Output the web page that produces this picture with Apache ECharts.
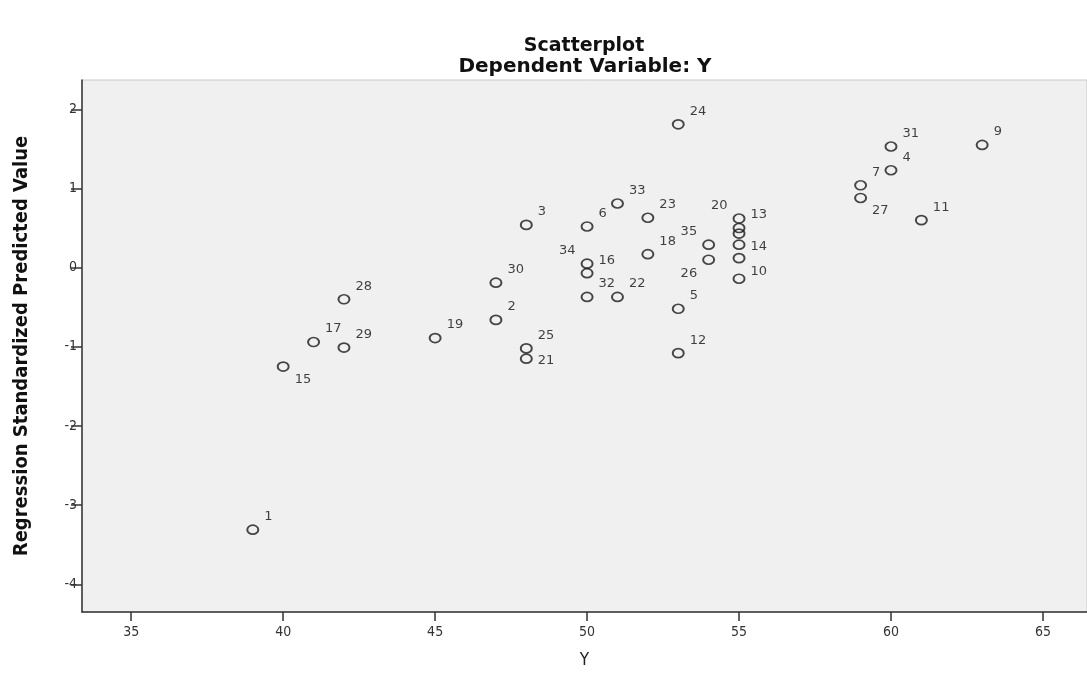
<!DOCTYPE html>
<html>
<head>
<meta charset="utf-8">
<script src="https://cdn.jsdelivr.net/npm/echarts@6/dist/echarts.min.js"></script>
<style>
html,body{margin:0;padding:0;background:#fff;}
#c{width:1087px;height:675px;}
</style>
</head>
<body>
<div id="c"></div>
<script>
// ---- data ----
const caseLabels = ['1','15','28','17','29','19','2','30','3','25','21','6','33','23','24','34','16','32','22','18','35','26','5','12','20','13','','14','10','','31','4','7','27','11','9'];
const observedY  = [39,40,42,41,42,45,47,47,48,48,48,50,51,52,53,50,50,50,51,52,54,54,53,53,55,55,55,55,55,55,60,60,59,59,61,63];
const predicted  = [-3.31,-1.25,-0.40,-0.94,-1.01,-0.89,-0.66,-0.19,0.54,-1.02,-1.15,0.52,0.81,0.63,1.81,0.05,-0.07,-0.37,-0.37,0.17,0.29,0.10,-0.52,-1.08,0.62,0.50,0.43,0.29,0.12,-0.14,1.53,1.23,1.04,0.88,0.60,1.55];
const xTicks = [35,40,45,50,55,60,65];
const yTicks = [-4,-3,-2,-1,0,1,2];

// ---- label placement styling (not data) ----
const labelSide = {'15':'LR','21':'R','34':'UL','35':'UL','26':'LL','20':'UL','14':'R','10':'LR','27':'LR'};
function labelCfg(side){
  switch(side){
    case 'UL': return {position:'left', offset:[0,-13]};
    case 'LR': return {position:'right', offset:[0,13]};
    case 'LL': return {position:'left', offset:[0,14]};
    case 'R':  return {position:'right', offset:[0,2]};
    default:   return {position:'right', offset:[0,-13]};
  }
}

const points = observedY.map((x,i)=>{
  const lab = caseLabels[i];
  return {
    value:[x, predicted[i]],
    name: lab,
    label: Object.assign({show: lab!==''}, labelCfg(labelSide[lab]||'UR'))
  };
});

const condensed = '"DejaVu Sans Condensed", "DejaVu Sans", sans-serif';
const chart = echarts.init(document.getElementById('c'), null, {renderer:'canvas'});
chart.setOption({
  animation:false,
  backgroundColor:'#ffffff',
  grid:{left:82, right:0, top:80, bottom:63, show:true, backgroundColor:'#f0f0f0', borderColor:'#c8c8c8', borderWidth:1},
  graphic:[
    {type:'text', x:584, y:46, style:{text:'Scatterplot', font:'bold 19px "DejaVu Sans"', fill:'#111', textAlign:'center', textVerticalAlign:'middle'}},
    {type:'text', x:585, y:67, style:{text:'Dependent Variable: Y', font:'bold 20px "DejaVu Sans"', fill:'#111', textAlign:'center', textVerticalAlign:'middle'}}
  ],
  xAxis:{
    type:'value', min:33.38, max:66.45,
    name:'Y', nameLocation:'middle', nameGap:40,
    nameTextStyle:{fontFamily:condensed, fontSize:17, color:'#222'},
    axisLine:{onZero:false, lineStyle:{color:'#333', width:1.5}},
    axisTick:{show:true, length:9, lineStyle:{color:'#333', width:1.5}, customValues:xTicks},
    axisLabel:{fontFamily:condensed, fontSize:14, color:'#333', margin:13, customValues:xTicks},
    splitLine:{show:false}
  },
  yAxis:{
    type:'value', min:-4.35, max:2.37,
    name:'Regression Standardized Predicted Value', nameLocation:'middle', nameGap:50, nameRotate:90,
    nameTextStyle:{fontFamily:condensed, fontWeight:'bold', fontSize:20, color:'#111'},
    axisLine:{show:true, onZero:false, lineStyle:{color:'#333', width:1.5}},
    axisTick:{show:true, length:11, lineStyle:{color:'#333', width:1.5}, customValues:yTicks},
    axisLabel:{fontFamily:condensed, fontSize:14, color:'#333', margin:5, customValues:yTicks},
    splitLine:{show:false}
  },
  series:[{
    type:'scatter',
    symbol:'circle',
    symbolSize:[11,9],
    itemStyle:{color:'rgba(0,0,0,0)', borderColor:'#1a1a1a', borderWidth:1.8},
    label:{show:true, formatter:p=>p.name, fontFamily:'"DejaVu Sans", sans-serif', fontSize:13, color:'#111', distance:5},
    data:points
  }]
});
</script>
</body>
</html>
